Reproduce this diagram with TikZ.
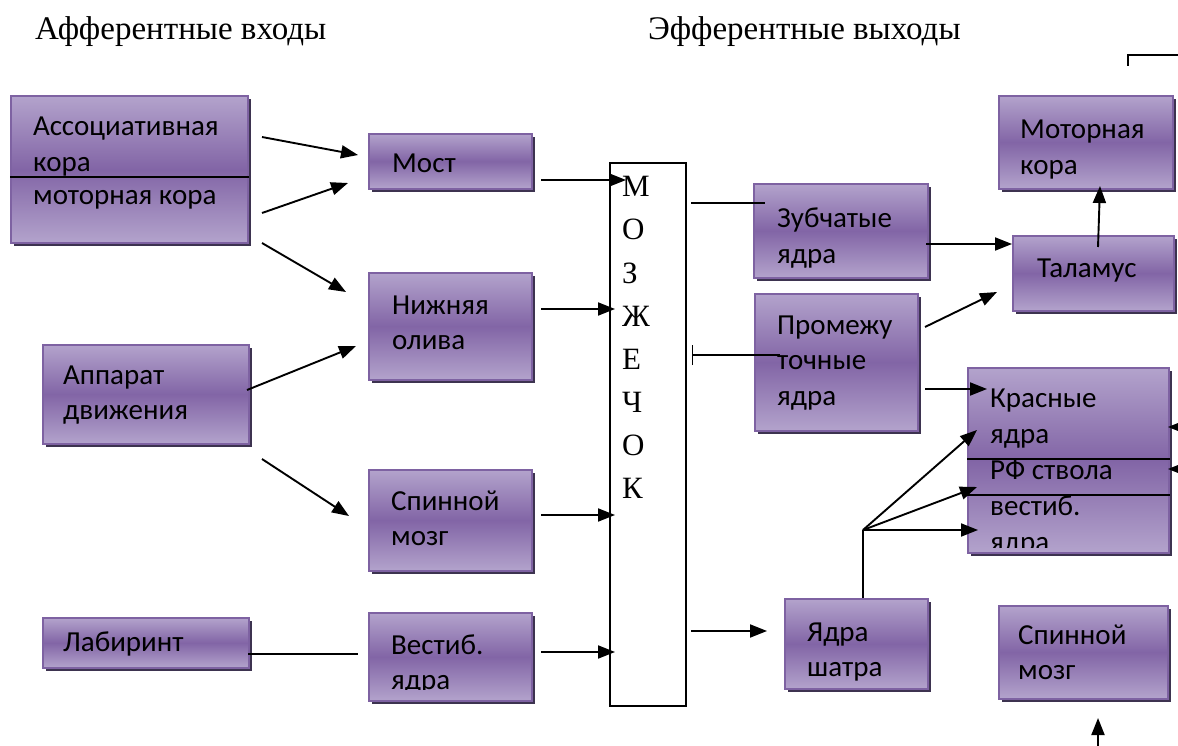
\documentclass[tikz,border=0pt]{standalone}
\usepackage{fontspec}
\setmainfont{Liberation Serif}
\newfontfamily\calfont{Carlito}
\usetikzlibrary{shadows,arrows.meta}
\definecolor{ptop}{HTML}{B3A3CC}
\definecolor{pmid}{HTML}{8265A6}
\definecolor{pedge}{HTML}{7E62A2}
\definecolor{pshadow}{HTML}{3D3350}
\tikzset{
  pbox/.style={draw=pedge, line width=1.6pt, top color=ptop, bottom color=ptop, middle color=pmid,
    general shadow={fill=pshadow, shadow xshift=3.5pt, shadow yshift=-3.5pt},
    anchor=north west, inner sep=0pt},
  boxtext/.style={anchor=base west, inner sep=0pt, text=black, font=\calfont\fontsize{29}{35.5}\selectfont},
  titletext/.style={anchor=base west, inner sep=0pt, font=\fontsize{33}{36}\selectfont},
  letter/.style={anchor=base west, inner sep=0pt, font=\fontsize{31}{34}\selectfont},
  arr/.style={-{Triangle[length=17pt,width=13pt]}, line width=1.9pt},
  thinln/.style={line width=1.3pt},
  divider/.style={line width=1.5pt, black}
}
\newcommand\pbx[5]{\node[pbox, minimum width=#4pt, minimum height=#5pt] (#1) at (#2,#3) {};}
\newcommand\btx[4]{\node[boxtext] (#1) at (#2,#3) {\parbox[t]{220pt}{\raggedright #4}};}
\begin{document}
\begin{tikzpicture}[x=1pt,y=-1pt]
\useasboundingbox (0,0) rectangle (1178,746);

% titles
\node[titletext] (taff) at (35,40) {Афферентные входы};
\node[titletext] (teff) at (648,40) {Эфферентные выходы};
% corner mark
\coordinate (c1) at (1128,66);
\coordinate (c2) at (1128,55);
\coordinate (c3) at (1180,55);
\draw[thinln] (c1) -- (c2) -- (c3);

% boxes
\pbx{assoc}{10}{95}{237}{147}
\pbx{most}{368}{133}{163}{55}
\pbx{oliva}{368}{272}{163}{107}
\pbx{spinL}{368}{469}{163}{101}
\pbx{vestib}{368}{612}{163}{88}
\pbx{appar}{42}{344}{206}{99}
\pbx{labir}{42}{617}{206}{50}
\pbx{zub}{753}{183}{174}{94}
\pbx{talam}{1012}{235}{161}{75}
\pbx{motor}{998}{95}{174}{93}
\pbx{promezh}{754}{293}{163}{137}
\pbx{kras}{967}{367}{201}{185}
\pbx{shatr}{784}{598}{143}{90}
\pbx{spinR}{998}{605}{169}{93}

% dividers
\draw[divider] (assoc.west |- 0,177) -- (assoc.east |- 0,177);
\draw[divider] (kras.west |- 0,459) -- (kras.east |- 0,459);
\draw[divider] (kras.west |- 0,495) -- (kras.east |- 0,495);

% box texts
\btx{tassoc1}{33}{136}{Ассоциативная\\кора}
\btx{tassoc2}{33}{205}{моторная кора}
\btx{tmost}{392}{173}{Мост}
\btx{toliva}{392}{314}{Нижняя\\олива}
\btx{tspinL}{391}{510}{Спинной\\мозг}
\begin{scope}
\clip (369,613) rectangle (530,689);
\btx{tvestib}{391}{654}{Вестиб.\\ядра}
\end{scope}
\btx{tappar}{63}{384}{Аппарат\\движения}
\btx{tlabir}{63}{651}{Лабиринт}
\btx{tzub}{777}{228}{Зубчатые\\ядра}
\btx{ttalam}{1037}{277}{Таламус}
\btx{tmotor}{1020}{139}{Моторная\\кора}
\btx{tpromezh}{777}{334}{Промежу\\точные\\ядра}
\begin{scope}
\clip (968,368) rectangle (1166,547);
\node[boxtext, font=\calfont\fontsize{29}{36}\selectfont] (tkras) at (990,407) {\parbox[t]{170pt}{\raggedright Красные\\ядра\\РФ ствола\\вестиб.\\ядра}};
\end{scope}
\btx{tshatr}{807}{641}{Ядра\\шатра}
\btx{tspinR}{1018}{644}{Спинной\\мозг}

% cerebellum column
\node[draw=black, line width=1.8pt, fill=white, anchor=north west, minimum width=76pt, minimum height=543pt, inner sep=0pt] (mozg) at (609,162) {};
\foreach \ch [count=\i] in {М,О,З,Ж,Е,Ч,О,К} {
  \node[letter] (mz\i) at (622,{197+43*(\i-1)}) {\ch};
}

% afferent connectors
\coordinate (a1s) at (262,137); \coordinate (a1e) at (358,155);
\coordinate (a2s) at (262,213); \coordinate (a2e) at (348,183);
\coordinate (a3s) at (262,243); \coordinate (a3e) at (346,292);
\coordinate (a4s) at (247,390); \coordinate (a4e) at (356,346);
\coordinate (a5s) at (262,459); \coordinate (a5e) at (349,516);
\coordinate (l1s) at (248,654); \coordinate (l1e) at (358,654);
\draw[arr] (a1s) -- (a1e);
\draw[arr] (a2s) -- (a2e);
\draw[arr] (a3s) -- (a3e);
\draw[arr] (a4s) -- (a4e);
\draw[arr] (a5s) -- (a5e);
\draw[thinln] (l1s) -- (l1e);

\coordinate (b1s) at (541,180); \coordinate (b1e) at (626,180);
\coordinate (b2s) at (541,309); \coordinate (b2e) at (615,309);
\coordinate (b3s) at (541,515); \coordinate (b3e) at (615,515);
\coordinate (b4s) at (541,652); \coordinate (b4e) at (615,652);
\draw[arr] (b1s) -- (b1e);
\draw[arr] (b2s) -- (b2e);
\draw[arr] (b3s) -- (b3e);
\draw[arr] (b4s) -- (b4e);

% efferent connectors
\coordinate (e1s) at (691,203); \coordinate (e1e) at (765,203);
\draw[thinln] (e1s) -- (e1e);
\coordinate (e2s) at (692,355); \coordinate (e2e) at (780,355);
\draw[thinln, {Bar[width=20pt,line width=1.3pt]}-] (e2s) -- (e2e);
\coordinate (e3s) at (691,631); \coordinate (e3e) at (767,631);
\draw[arr] (e3s) -- (e3e);
\coordinate (e4s) at (926,244); \coordinate (e4e) at (1012,244);
\draw[arr] (e4s) -- (e4e);
\coordinate (e5s) at (1098,247); \coordinate (e5e) at (1100,186);
\draw[arr] (e5s) -- (e5e);
\coordinate (e6s) at (925,327); \coordinate (e6e) at (997,292);
\draw[arr] (e6s) -- (e6e);
\coordinate (e7s) at (925,389); \coordinate (e7e) at (987,389);
\draw[arr] (e7s) -- (e7e);
\coordinate (jn) at (863,530);
\draw[arr, -] (shatr.north -| 863,0) -- (jn);
\coordinate (f1) at (977,430);
\coordinate (f2) at (977,487);
\coordinate (f3) at (978,530);
\draw[arr] (jn) -- (f1);
\draw[arr] (jn) -- (f2);
\draw[arr] (jn) -- (f3);
\coordinate (r1s) at (1200,427); \coordinate (r1e) at (1168,427);
\coordinate (r2s) at (1200,469); \coordinate (r2e) at (1168,469);
\draw[arr] (r1s) -- (r1e);
\draw[arr] (r2s) -- (r2e);
\coordinate (u1s) at (1098,760); \coordinate (u1e) at (1098,718);
\draw[arr] (u1s) -- (u1e);
\end{tikzpicture}
\end{document}
